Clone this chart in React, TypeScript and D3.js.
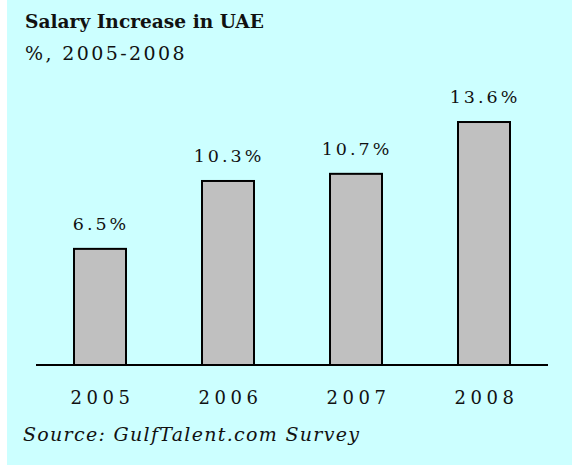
import React, { useEffect, useRef } from "react";
import * as d3 from "d3";

const years = ["2005", "2006", "2007", "2008"];
const increases = [6.5, 10.3, 10.7, 13.6];
const valueLabels = ["6.5%", "10.3%", "10.7%", "13.6%"];

const title = "Salary Increase in UAE";
const subtitle = "%, 2005-2008";
const source = "Source: GulfTalent.com Survey";

export default function App() {
  const svgRef = useRef<SVGSVGElement>(null);

  useEffect(() => {
    const w = 572;
    const h = 472;
    const font = "'DejaVu Serif', Georgia, serif";

    d3.select(svgRef.current).selectAll("*").remove();

    const svg = d3
      .select(svgRef.current)
      .attr("width", w)
      .attr("height", h)
      .style("position", "absolute")
      .style("left", "0px")
      .style("top", "0px");

    // cyan panel
    svg
      .append("rect")
      .attr("x", 7)
      .attr("y", 0)
      .attr("width", w - 7)
      .attr("height", 465)
      .attr("fill", "#ccffff");

    svg
      .append("text")
      .attr("x", 25)
      .attr("y", 28)
      .attr("font-family", font)
      .attr("font-size", 18.6)
      .attr("font-weight", "bold")
      .attr("fill", "#111")
      .text(title);

    svg
      .append("text")
      .attr("x", 25)
      .attr("y", 60)
      .attr("font-family", font)
      .attr("font-size", 19)
      .attr("letter-spacing", 2.4)
      .attr("fill", "#111")
      .text(subtitle);

    const xScale = d3.scalePoint().domain(years).range([36, 548]).padding(0.5);
    const yScale = d3.scaleLinear().domain([0, 15]).range([365, 97]);
    const barW = 52;

    svg
      .selectAll(".bar")
      .data(increases)
      .join("rect")
      .attr("class", "bar")
      .attr("x", (d, i) => (xScale(years[i]) as number) - barW / 2)
      .attr("y", (d) => yScale(d))
      .attr("width", barW)
      .attr("height", (d) => yScale(0) - yScale(d))
      .attr("fill", "#c0c0c0")
      .attr("stroke", "#000")
      .attr("stroke-width", 2);

    svg
      .selectAll(".val")
      .data(increases)
      .join("text")
      .attr("class", "val")
      .attr("x", (d, i) => (xScale(years[i]) as number) + 1)
      .attr("y", (d) => yScale(d) - 19)
      .attr("text-anchor", "middle")
      .attr("font-family", font)
      .attr("font-size", 17.5)
      .attr("letter-spacing", 3)
      .attr("fill", "#111")
      .text((d, i) => valueLabels[i]);

    // baseline
    svg
      .append("line")
      .attr("x1", 36)
      .attr("x2", 548)
      .attr("y1", yScale(0))
      .attr("y2", yScale(0))
      .attr("stroke", "#000")
      .attr("stroke-width", 2);

    const xAxis = d3.axisBottom(xScale).tickSize(0).tickPadding(0);
    const ax = svg
      .append("g")
      .attr("transform", `translate(0,${yScale(0)})`)
      .call(xAxis);
    ax.select(".domain").remove();
    ax.selectAll("text")
      .attr("y", 39)
      .attr("dy", 0)
      .attr("dx", 2)
      .attr("font-family", font)
      .attr("font-size", 18)
      .attr("letter-spacing", 4.5)
      .attr("fill", "#111");

    svg
      .append("text")
      .attr("x", 23)
      .attr("y", 441)
      .attr("font-family", font)
      .attr("font-size", 19)
      .attr("font-style", "italic")
      .attr("letter-spacing", 1.3)
      .attr("fill", "#111")
      .text(source);
  }, []);

  return (
    <div>
      <svg ref={svgRef}></svg>
    </div>
  );
}
